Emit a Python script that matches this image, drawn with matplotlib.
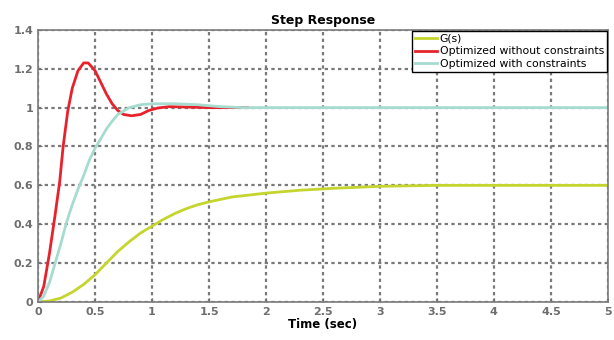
import matplotlib.pyplot as plt

# step response curves
t_g = [0, 0.1, 0.2, 0.3, 0.4, 0.5, 0.6, 0.7, 0.8, 0.9, 1.0, 1.1, 1.2, 1.3,
       1.4, 1.5, 1.7, 2.0, 2.3, 2.6, 3.0, 3.5, 5.0]
y_g = [0, 0.005, 0.02, 0.05, 0.09, 0.14, 0.20, 0.26, 0.31, 0.355, 0.39, 0.425,
       0.455, 0.48, 0.50, 0.515, 0.54, 0.56, 0.575, 0.585, 0.595, 0.60, 0.60]

t_red = [0, 0.05, 0.1, 0.15, 0.19, 0.22, 0.26, 0.30, 0.35, 0.40, 0.44, 0.50,
         0.55, 0.60, 0.65, 0.70, 0.75, 0.82, 0.90, 0.97, 1.05, 1.15, 1.3, 1.5, 1.84]
y_red = [0, 0.08, 0.25, 0.45, 0.62, 0.80, 0.98, 1.10, 1.19, 1.23, 1.23, 1.19,
         1.13, 1.07, 1.02, 0.985, 0.965, 0.958, 0.965, 0.985, 0.998, 1.005,
         1.003, 1.0, 1.0]

t_cyan = [0, 0.05, 0.1, 0.16, 0.2, 0.25, 0.3, 0.35, 0.4, 0.45, 0.5, 0.55, 0.6,
          0.65, 0.7, 0.8, 0.9, 1.0, 1.2, 1.4, 1.6, 1.8, 5.0]
y_cyan = [0, 0.03, 0.10, 0.22, 0.30, 0.41, 0.50, 0.58, 0.65, 0.73, 0.79, 0.84,
          0.89, 0.93, 0.965, 1.0, 1.015, 1.02, 1.02, 1.015, 1.005, 1.0, 1.0]

labels = ['G(s)', 'Optimized without constraints', 'Optimized with constraints']
xticks = [0, 0.5, 1, 1.5, 2, 2.5, 3, 3.5, 4, 4.5, 5]
xtick_labels = ['0', '0.5', '1', '1.5', '2', '2.5', '3', '3.5', '4', '4.5', '5']
yticks = [0, 0.2, 0.4, 0.6, 0.8, 1, 1.2, 1.4]
ytick_labels = ['0', '0.2', '0.4', '0.6', '0.8', '1', '1.2', '1.4']

fig = plt.figure(figsize=(6.14, 3.4), dpi=100)
ax = fig.add_axes([0.062, 0.112, 0.928, 0.80])

ax.plot(t_g, y_g, color='#c5d52e', lw=2, label=labels[0])
ax.plot(t_red, y_red, color='#e8222c', lw=2, label=labels[1])
ax.plot(t_cyan, y_cyan, color='#a6dccf', lw=2, label=labels[2])

ax.set_xlim(0, 5)
ax.set_ylim(0, 1.4)
ax.set_xticks(xticks)
ax.set_xticklabels(xtick_labels)
ax.set_yticks(yticks)
ax.set_yticklabels(ytick_labels)
ax.tick_params(colors='#6e6e6e', labelsize=8, length=3, direction='in')
for lab in ax.get_xticklabels() + ax.get_yticklabels():
    lab.set_fontweight('bold')

ax.grid(True, color='#7a7a7a', linestyle=(0, (1.5, 1.5)), lw=1.6)
for s in ax.spines.values():
    s.set_color('#7a7a7a')
    s.set_linewidth(1.2)

ax.set_title('Step Response', fontsize=9, fontweight='bold', pad=4)
ax.set_xlabel('Time (sec)', fontsize=8.5, fontweight='bold', labelpad=1)

leg = ax.legend(loc='upper right', fontsize=7.8, frameon=True, fancybox=False,
                borderpad=0.25, labelspacing=0.25, handlelength=2.0,
                handletextpad=0.3, borderaxespad=0.1, framealpha=1)
leg.get_frame().set_edgecolor('black')
leg.get_frame().set_linewidth(1)

fig.savefig('out.png', dpi=100)
